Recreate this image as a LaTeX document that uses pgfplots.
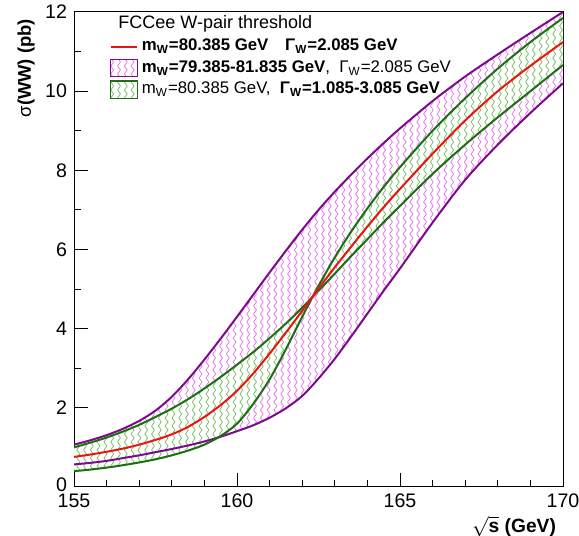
\documentclass[border=0pt]{standalone}
\usepackage{fontspec}
\setmainfont{Liberation Sans}
\usepackage{pgfplots}
\usepackage{pgfplotstable}
\pgfplotsset{compat=1.18}
\usepgfplotslibrary{fillbetween}
\usetikzlibrary{patterns}

\definecolor{purpleline}{RGB}{125,10,140}
\definecolor{magfill}{RGB}{228,110,238}
\definecolor{greenline}{RGB}{30,110,20}
\definecolor{greenfill}{RGB}{110,190,90}
\definecolor{redline}{RGB}{235,20,20}

% vertical wavy hatch, like the ROOT fill style
\pgfdeclarepatternformonly{vwave}{\pgfpoint{0pt}{-0.5pt}}{\pgfpoint{3.4pt}{4.5pt}}{\pgfpoint{3.4pt}{4pt}}{%
  \pgfsetlinewidth{0.35pt}%
  \pgfpathmoveto{\pgfpoint{1.7pt}{0pt}}%
  \pgfpathcurveto{\pgfpoint{2.65pt}{0.67pt}}{\pgfpoint{2.65pt}{1.33pt}}{\pgfpoint{1.7pt}{2pt}}%
  \pgfpathcurveto{\pgfpoint{0.75pt}{2.67pt}}{\pgfpoint{0.75pt}{3.33pt}}{\pgfpoint{1.7pt}{4pt}}%
  \pgfusepath{stroke}%
}

% sigma(WW) in pb
% PU/PL: mW = 79.385 / 81.385 GeV, R: nominal, GW/GN: Gamma = 3.085 / 1.085 GeV
\pgfplotstableread{
E      PU     PL     R      GW     GN
155    1.07   0.57   0.76   1.00   0.40
155.5  1.18   0.61   0.82   1.12   0.44
156    1.31   0.66   0.89   1.25   0.49
156.5  1.47   0.73   0.97   1.40   0.55
157    1.67   0.80   1.07   1.57   0.62
157.5  1.93   0.88   1.19   1.77   0.70
158    2.28   0.96   1.33   1.98   0.80
158.5  2.72   1.05   1.52   2.22   0.92
159    3.22   1.15   1.77   2.49   1.07
159.5  3.75   1.27   2.07   2.78   1.29
160    4.30   1.41   2.43   3.09   1.60
160.5  4.86   1.56   2.87   3.41   2.10
161    5.42   1.75   3.37   3.76   2.72
161.5  5.97   1.99   3.90   4.13   3.48
162    6.50   2.30   4.45   4.53   4.30
162.5  7.00   2.74   5.01   4.96   5.08
163    7.46   3.24   5.55   5.39   5.80
163.5  7.89   3.80   6.07   5.83   6.45
164    8.30   4.38   6.58   6.26   7.04
164.5  8.69   4.96   7.07   6.69   7.58
165    9.06   5.52   7.53   7.10   8.08
166    9.75   6.68   8.42   7.91   9.00
167    10.37  7.76   9.26   8.65   9.82
168    10.93  8.65   10.00  9.34   10.57
169    11.47  9.45   10.64  10.00  11.24
170    12.00  10.20  11.24  10.66  11.85
}\wwtab

\begin{document}
\begin{tikzpicture}
\begin{axis}[
    scale only axis, width=244.5pt, height=237.5pt,
    xmin=155, xmax=170, ymin=0, ymax=12,
    xtick={155,160,165,170}, ytick={0,2,...,12},
    yticklabels={\raisebox{2pt}{0},2,4,6,8,10,12},
    minor x tick num=4, minor y tick num=1,
    tick align=inside, tick pos=left,
    major tick length=7pt, minor tick length=3.7pt,
    axis line style={line width=0.5pt},
    every tick/.style={black, line width=0.5pt},
    tick label style={font=\fontsize{9.8}{12}\selectfont},
    /pgf/number format/assume math mode=true,
    xlabel={$\sqrt{\textbf{s}}$\textbf{ (GeV)}},
    ylabel={σ\textbf{(WW) (pb)}},
    xlabel style={at={(rel axis cs:1,-0.046)}, anchor=north east, font=\fontsize{9.6}{11}\selectfont},
    ylabel style={at={(rel axis cs:-0.066,1)}, anchor=south east, font=\fontsize{9.2}{11}\selectfont},
    legend style={at={(rel axis cs:0.072,0.952)}, anchor=north west, draw=none, fill=none,
        inner sep=0pt, row sep=-0.6pt, font=\fontsize{8.4}{10}\selectfont},
    legend cell align=left,
]
\addplot[draw=none, name path=PU, smooth, forget plot] table[x=E, y=PU] {\wwtab};
\addplot[draw=none, name path=PL, smooth, forget plot] table[x=E, y=PL] {\wwtab};
\addplot[draw=none, name path=GW, smooth, forget plot] table[x=E, y=GW] {\wwtab};
\addplot[draw=none, name path=GN, smooth, forget plot] table[x=E, y=GN] {\wwtab};

\addplot[pattern=vwave, pattern color=magfill, draw=none, forget plot] fill between[of=PU and PL];
\addplot[white, draw=none, forget plot] fill between[of=GW and GN];
\addplot[pattern=vwave, pattern color=greenfill, draw=none, forget plot] fill between[of=GW and GN];

\addplot[purpleline, line width=1pt, smooth, forget plot] table[x=E, y=PU] {\wwtab};
\addplot[purpleline, line width=1pt, smooth, forget plot] table[x=E, y=PL] {\wwtab};
\addplot[greenline, line width=1pt, smooth, forget plot] table[x=E, y=GW] {\wwtab};
\addplot[greenline, line width=1pt, smooth, forget plot] table[x=E, y=GN] {\wwtab};
\addplot[redline, line width=1pt, smooth, forget plot] table[x=E, y=R] {\wwtab};

\addlegendimage{legend image code/.code={\draw[redline, line width=1pt] (0cm,0cm) -- (0.46cm,0cm);}}
\addlegendentry{\textbf{m\textsubscript{W}=80.385 GeV\quad Γ\textsubscript{W}=2.085 GeV}}
\addlegendimage{legend image code/.code={\draw[purpleline, line width=0.6pt, pattern=vwave, pattern color=magfill] (0cm,-0.15cm) rectangle (0.47cm,0.15cm);}}
\addlegendentry{\textbf{m\textsubscript{W}=79.385-81.835 GeV},\ \ Γ\textsubscript{W}=2.085 GeV}
\addlegendimage{legend image code/.code={\draw[greenline, line width=0.6pt, pattern=vwave, pattern color=greenfill] (0cm,-0.15cm) rectangle (0.47cm,0.15cm);}}
\addlegendentry{m\textsubscript{W}=80.385 GeV,\ \ \textbf{Γ\textsubscript{W}=1.085-3.085 GeV}}

\node[anchor=west, font=\fontsize{9}{11}\selectfont, inner sep=0pt] at (rel axis cs:0.09,0.976) {FCCee W-pair threshold};
\end{axis}
\pgfresetboundingbox
\path[use as bounding box] ([shift={(-37pt,-24.5pt)}]current axis.south west) rectangle ([shift={(8pt,6pt)}]current axis.north east);
\end{tikzpicture}
\end{document}
